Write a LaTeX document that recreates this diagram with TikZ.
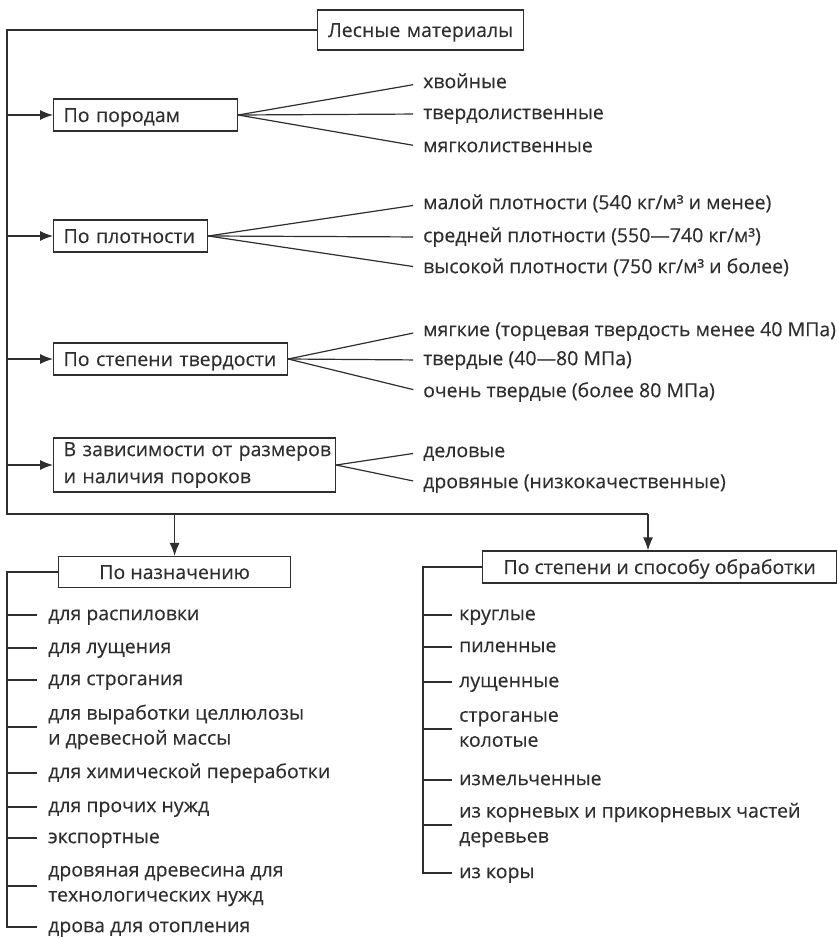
\documentclass[tikz,border=0pt]{standalone}
\usepackage{fontspec}
\setmainfont{Open Sans}[FakeBold=0.3]
\usetikzlibrary{arrows.meta}
\definecolor{ink}{HTML}{2E2E2E}
\begin{document}
\begin{tikzpicture}[x=1pt,y=-1pt,
  every node/.style={font=\fontsize{19.5}{25}\selectfont, text=ink},
  box/.style={draw=ink, line width=1.2pt, inner xsep=10pt, inner ysep=0pt, anchor=west, text height=16pt, text depth=2pt},
  item/.style={anchor=west, inner sep=0pt, text height=10.4pt, text depth=0pt},
  itemtwo/.style={anchor=west, inner sep=0pt, align=left},
  ln/.style={draw=ink, line width=1.2pt},
  arr/.style={ln, -{Latex[length=13pt,width=10pt]}},
]
\useasboundingbox (0,0) rectangle (838,939);

% boxes
\node[box, text width=186pt, align=center, minimum height=40pt] (top) at (317,30) {Лесные материалы};
\node[box, text width=164pt, align=left, minimum height=32pt] (b1) at (53,115) {По породам};
\node[box, text width=134pt, align=left, minimum height=32pt] (b2) at (53,236) {По плотности};
\node[box, text width=214pt, align=left, minimum height=32pt] (b3) at (53,359) {По степени твердости};
\node[draw=ink, line width=1.2pt, inner xsep=10pt, inner ysep=0pt, anchor=west, text width=262pt, align=left, minimum height=54pt, font=\fontsize{19.5}{27}\selectfont] (b4) at (53,465) {\mbox{В зависимости от размеров}\\\mbox{и наличия пороков}};
\node[box, minimum width=232pt, minimum height=31pt, inner xsep=0pt, align=center] (b5) at (58,572) {По назначению};
\node[box, minimum width=354pt, minimum height=32pt, inner xsep=0pt, align=center] (b6) at (482,567) {По степени и способу обработки};

% main frame
\coordinate (bl) at (7,514);
\coordinate (br) at (648,514);
\draw[ln] (top.west) -| (bl) -- (br);
\draw[arr] (br) -- (br |- b6.north);
\draw[arr] (b5.north |- bl) -- (b5.north);
\foreach \b in {b1,b2,b3,b4}{\draw[arr] (bl |- \b.west) -- (\b.west);}

% fans
\node[item] (p1) at (423,83) {хвойные};
\node[item] (p2) at (423,114) {твердолиственные};
\node[item] (p3) at (423,147) {мягколиственные};
\node[item] (d1) at (423,204) {малой плотности (540 кг/м³ и менее)};
\node[item] (d2) at (423,237) {средней плотности (550—740 кг/м³)};
\node[item] (d3) at (423,268) {высокой плотности (750 кг/м³ и более)};
\node[item] (h1) at (423,331) {мягкие (торцевая твердость менее 40 МПа)};
\node[item] (h2) at (423,360) {твердые (40—80 МПа)};
\node[item] (h3) at (423,392) {очень твердые (более 80 МПа)};
\node[item] (r1) at (423,452) {деловые};
\node[item] (r2) at (423,483) {дровяные (низкокачественные)};
\foreach \b/\l in {b1/p1,b1/p2,b1/p3,b2/d1,b2/d2,b2/d3,b3/h1,b3/h2,b3/h3,b4/r1,b4/r2}
  {\draw[ln, shorten >=10pt] (\b.east) -- (\l.west);}

% left list
\coordinate (vL) at (7,0);
\node[item] (n1) at (48,615) {для распиловки};
\node[item] (n2) at (48,648) {для лущения};
\node[item] (n3) at (48,680) {для строгания};
\node[itemtwo] (n4) at (48,727) {для выработки целлюлозы\\и древесной массы};
\node[item] (n5) at (48,773) {для химической переработки};
\node[item] (n6) at (48,807) {для прочих нужд};
\node[item] (n7) at (48,838) {экспортные};
\node[itemtwo] (n8) at (48,886) {дровяная древесина для\\технологических нужд};
\node[item] (n9) at (48,927) {дрова для отопления};
\draw[ln, shorten >=11pt] (b5.west) -| (vL |- n9.west) -- (n9.west);
\foreach \n in {n1,n2,n3,n4,n5,n6,n7,n8}{\draw[ln, shorten >=11pt] (vL |- \n.west) -- (\n.west);}

% right list
\coordinate (vR) at (423,0);
\node[item] (m1) at (459,615) {круглые};
\node[item] (m2) at (459,647) {пиленные};
\node[item] (m3) at (459,682) {лущенные};
\node[itemtwo] (m4) at (459,729) {строганые\\колотые};
\node[item] (m5) at (459,780) {измельченные};
\node[itemtwo] (m6) at (459,825) {из корневых и прикорневых частей\\деревьев};
\node[item] (m7) at (459,873) {из коры};
\draw[ln, shorten >=7pt] (b6.west) -| (vR |- m7.west) -- (m7.west);
\foreach \n in {m1,m2,m3,m4,m5,m6}{\draw[ln, shorten >=7pt] (vR |- \n.west) -- (\n.west);}
\end{tikzpicture}
\end{document}
